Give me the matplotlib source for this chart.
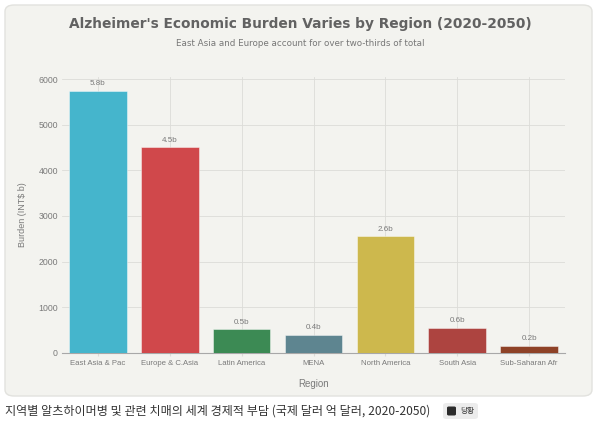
import matplotlib
matplotlib.use('Agg')
import matplotlib.pyplot as plt
from matplotlib.patches import FancyBboxPatch

# ── Data ──────────────────────────────────────────────
regions = ["East Asia & Pac", "Europe & C.Asia", "Latin America", "MENA",
           "North America", "South Asia", "Sub-Saharan Afr"]
burden = [5750, 4510, 520, 390, 2560, 550, 150]
value_labels = ["5.8b", "4.5b", "0.5b", "0.4b", "2.6b", "0.6b", "0.2b"]
yticks = [0, 1000, 2000, 3000, 4000, 5000, 6000]

# ── Palette ──────────────────────────────────────────
colors = ["#45b5cc", "#d0484b", "#3c8a54", "#5e8590", "#cdb84d", "#ad4440", "#8e4227"]
CARD = "#f3f3ef"; EDGE = "#e2e2de"; GRID = "#dcdcd8"; TXT = "#7a7a7a"

W, H = 602, 425
fig = plt.figure(figsize=(W / 100, H / 100), dpi=100)
fig.patch.set_facecolor("white")

# card background
card = FancyBboxPatch((5 / W, 1 - 396 / H), 587 / W, 391 / H,
                      boxstyle="round,pad=0,rounding_size=0.015",
                      transform=fig.transFigure, facecolor=CARD,
                      edgecolor=EDGE, linewidth=1.0, zorder=-2)
fig.patches.append(card)

ax = fig.add_axes([62 / W, 1 - 352.7 / H, (565 - 62) / W, (352.7 - 77) / H])
ax.set_facecolor("none")

x = range(len(regions))
ax.bar(x, burden, width=0.8, color=colors, edgecolor="#ffffff80", linewidth=0.6, zorder=3)
for xi, v, lab in zip(x, burden, value_labels):
    ax.annotate(lab, (xi, v), xytext=(0, 2.5), textcoords="offset points",
                ha="center", va="bottom", fontsize=5.8, color=TXT,
                family="Liberation Sans", zorder=4)

ax.set_xlim(-0.5, len(regions) - 0.5)
ax.set_ylim(0, 6050)
ax.set_yticks(yticks)
ax.set_xticks(list(x))
ax.set_xticklabels(regions, fontsize=5.6, color=TXT, family="Liberation Sans")
ax.set_yticklabels([str(t) for t in yticks], fontsize=6.3, color=TXT, family="Liberation Sans")
ax.tick_params(axis="x", length=2, color=GRID, pad=3)
ax.tick_params(axis="y", length=0, pad=3)
ax.grid(True, color=GRID, linewidth=0.6, zorder=0)
ax.set_axisbelow(True)
for s in ["top", "right", "left"]:
    ax.spines[s].set_visible(False)
ax.spines["bottom"].set_color("#a8a8a8")
ax.spines["bottom"].set_linewidth(0.8)

ax.set_xlabel("Region", fontsize=7, color=TXT, family="Liberation Sans", labelpad=9)
ax.set_ylabel("Burden (INT$ b)", fontsize=6.5, color=TXT, family="Liberation Sans", labelpad=8)

fig.text(300 / W, 1 - 24 / H, "Alzheimer's Economic Burden Varies by Region (2020-2050)",
         ha="center", va="center", fontsize=9.9, fontweight="bold", color="#626262",
         family="DejaVu Sans")
fig.text(300 / W, 1 - 44 / H, "East Asia and Europe account for over two-thirds of total",
         ha="center", va="center", fontsize=6.3, color="#777777", family="DejaVu Sans")

# caption below the card
fig.text(5 / W, 1 - 411 / H, "지역별 알츠하이머병 및 관련 치매의 세계 경제적 부담 (국제 달러 억 달러, 2020-2050)",
         ha="left", va="center", fontsize=8.7, color="#333333",
         family=["Noto Sans CJK KR", "DejaVu Sans"])
badge = FancyBboxPatch((443 / W, 1 - 419 / H), 35 / W, 16 / H,
                       boxstyle="round,pad=0,rounding_size=0.006",
                       transform=fig.transFigure, facecolor="#ececec",
                       edgecolor="none", zorder=1)
fig.patches.append(badge)
icon = FancyBboxPatch((447 / W, 1 - 415.5 / H), 9 / W, 9 / H,
                      boxstyle="round,pad=0,rounding_size=0.003",
                      transform=fig.transFigure, facecolor="#2b2b2b",
                      edgecolor="none", zorder=2)
fig.patches.append(icon)
fig.text(467 / W, 1 - 411 / H, "당황", ha="center", va="center", fontsize=5.5,
         color="#333333", family=["Noto Sans CJK KR", "DejaVu Sans"])

fig.savefig("out.png", dpi=100)
